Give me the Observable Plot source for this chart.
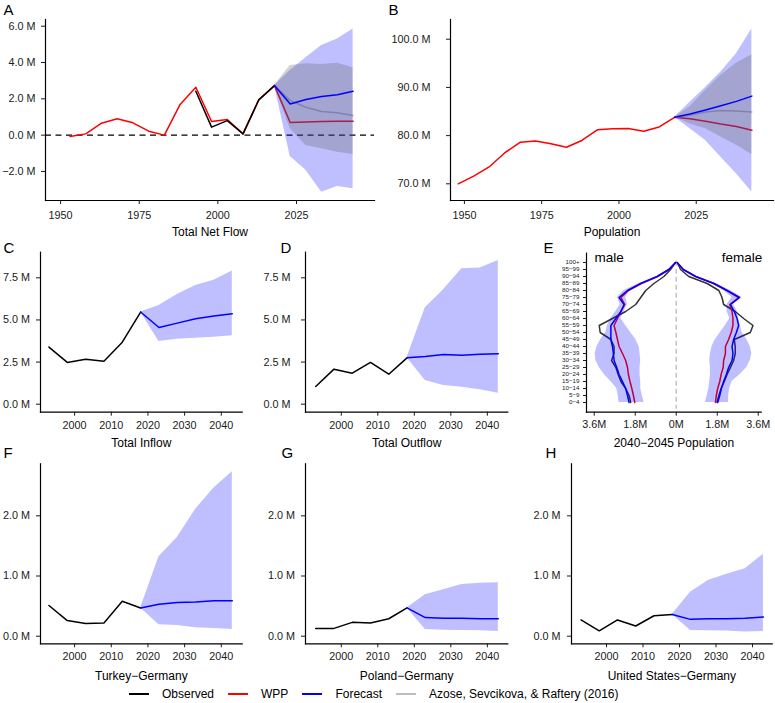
<!DOCTYPE html>
<html>
<head>
<meta charset="utf-8">
<script src="https://cdn.jsdelivr.net/npm/d3@7"></script>
<script src="https://cdn.jsdelivr.net/npm/@observablehq/plot@0.6"></script>
<style>
  body { margin: 0; background: #fff; }
  #wrap { position: relative; width: 775px; height: 703px; font-family: "Liberation Sans", Arial, Helvetica, sans-serif; }
  #wrap svg { position: absolute; left: 0; top: 0; }
  #legend { position: absolute; left: 129px; top: 686px; height: 16px; display: flex; align-items: center; font-size: 12px; color: #000; }
  #legend .item { display: flex; align-items: center; margin-right: 14px; }
  #legend .sw { display: inline-block; width: 20px; height: 2px; margin-right: 13px; }
</style>
</head>
<body>
<div id="wrap"></div>
<script>
// ---------------- data ----------------
const histYears = [1993, 1998, 2003, 2008, 2013, 2018];
const fcYears = [2018, 2023, 2028, 2033, 2038, 2043];

// A: Total net flow (millions)
const wppNetYears = [1953, 1958, 1963, 1968, 1973, 1978, 1983, 1988, 1993, 1998, 2003, 2008, 2013, 2018, 2023, 2028, 2033, 2038, 2043];
const wppNet = [-0.07, 0.07, 0.66, 0.90, 0.68, 0.22, 0.00, 1.69, 2.64, 0.75, 0.86, 0.07, 1.94, 2.73, 0.70, 0.72, 0.75, 0.76, 0.77];
const obsNet = [2.42, 0.44, 0.80, 0.07, 1.94, 2.73];
const fcNet = [2.73, 1.72, 1.96, 2.13, 2.22, 2.42];
const fcNetLo = [2.73, -1.17, -1.94, -3.14, -2.83, -2.95];
const fcNetHi = [2.73, 3.56, 4.26, 4.94, 5.30, 5.85];
const azNet = [2.73, 1.90, 1.54, 1.30, 1.23, 1.08];
const azNetLo = [2.73, 0.35, -0.57, -0.75, -0.94, -1.06];
const azNetHi = [2.73, 3.83, 3.93, 3.89, 3.96, 3.71];

// B: Population (millions)
const wppPopYears = [1948, 1953, 1958, 1963, 1968, 1973, 1978, 1983, 1988, 1993, 1998, 2003, 2008, 2013, 2018, 2023, 2028, 2033, 2038, 2043];
const wppPop = [70.0, 71.6, 73.5, 76.4, 78.6, 78.9, 78.3, 77.6, 79.0, 81.2, 81.4, 81.5, 80.9, 81.8, 83.8, 83.5, 83.0, 82.4, 81.9, 81.1];
const fcPop = [83.8, 84.5, 85.3, 86.2, 87.1, 88.2];
const fcPopLo = [83.8, 81.4, 79.0, 75.5, 72.1, 68.3];
const fcPopHi = [83.8, 86.9, 90.0, 93.2, 97.0, 102.1];
const azPop = [83.8, 84.2, 84.9, 85.2, 85.1, 84.9];
const azPopLo = [83.8, 82.4, 81.4, 79.7, 78.0, 76.1];
const azPopHi = [83.8, 86.0, 89.4, 92.5, 95.0, 96.8];

// C: Total inflow
const inflowObs = [3.39, 2.48, 2.67, 2.55, 3.68, 5.47];
const inflowFc = [5.47, 4.55, 4.81, 5.07, 5.23, 5.37];
const inflowLo = [5.47, 3.72, 3.86, 3.92, 3.98, 4.06];
const inflowHi = [5.47, 5.86, 6.51, 7.05, 7.35, 7.90];

// D: Total outflow
const outflowObs = [1.05, 2.08, 1.84, 2.48, 1.78, 2.75];
const outflowFc = [2.75, 2.83, 2.95, 2.91, 2.97, 2.99];
const outflowLo = [2.75, 1.41, 1.11, 1.01, 0.85, 0.65];
const outflowHi = [2.75, 5.72, 6.79, 8.04, 8.08, 8.53];

// F: Turkey-Germany
const turObs = [0.51, 0.26, 0.21, 0.22, 0.58, 0.47];
const turFc = [0.47, 0.53, 0.56, 0.57, 0.59, 0.59];
const turLo = [0.47, 0.19, 0.18, 0.14, 0.13, 0.11];
const turHi = [0.47, 1.32, 1.64, 2.11, 2.46, 2.73];

// G: Poland-Germany
const polObs = [0.13, 0.13, 0.23, 0.22, 0.29, 0.47];
const polFc = [0.47, 0.31, 0.30, 0.30, 0.29, 0.29];
const polLo = [0.47, 0.11, 0.10, 0.095, 0.09, 0.08];
const polHi = [0.47, 0.69, 0.77, 0.86, 0.88, 0.89];

// H: United States-Germany
const usObs = [0.27, 0.09, 0.27, 0.17, 0.34, 0.36];
const usFc = [0.36, 0.28, 0.29, 0.29, 0.30, 0.32];
const usLo = [0.36, 0.095, 0.09, 0.085, 0.07, 0.08];
const usHi = [0.36, 0.73, 0.93, 1.03, 1.12, 1.36];

// E: 2040-2045 population pyramid (millions)
const ages = ["0−4", "5−9", "10−14", "15−19", "20−24", "25−29", "30−34", "35−39", "40−44", "45−49", "50−54", "55−59", "60−64", "65−69", "70−74", "75−79", "80−84", "85−89", "90−94", "95−99", "100+"];
const maleFc = [2.07, 2.14, 2.22, 2.36, 2.51, 2.61, 2.73, 2.76, 2.80, 2.87, 2.87, 2.87, 2.65, 2.43, 2.29, 2.51, 2.14, 1.56, 0.83, 0.32, 0.03];
const maleWpp = [1.82, 1.88, 1.95, 2.03, 2.10, 2.14, 2.22, 2.36, 2.51, 2.58, 2.65, 2.73, 2.58, 2.43, 2.26, 2.43, 2.10, 1.53, 0.83, 0.32, 0.03];
const maleObs = [2.00, 2.07, 2.22, 2.43, 2.55, 2.65, 2.84, 2.73, 2.73, 2.87, 3.34, 3.38, 2.80, 2.22, 1.78, 1.56, 1.34, 0.98, 0.54, 0.25, 0.03];
const maleBandOuter = [2.51, 2.55, 2.61, 2.87, 3.16, 3.38, 3.53, 3.56, 3.48, 3.31, 3.09, 3.02, 2.87, 2.65, 2.46, 2.58, 2.29, 1.63, 0.87, 0.35, 0.03];
const maleBandInner = [1.41, 1.49, 1.56, 1.56, 1.59, 1.59, 1.56, 1.59, 1.63, 1.78, 2.00, 2.22, 2.43, 2.29, 2.14, 2.22, 2.03, 1.45, 0.76, 0.29, 0.03];
const femFc = [1.82, 1.91, 1.98, 2.08, 2.20, 2.30, 2.45, 2.49, 2.45, 2.52, 2.64, 2.74, 2.67, 2.55, 2.38, 2.78, 2.23, 1.65, 0.85, 0.31, 0.04];
const femWpp = [1.72, 1.76, 1.82, 1.91, 1.97, 2.06, 2.08, 2.16, 2.16, 2.30, 2.41, 2.49, 2.49, 2.45, 2.35, 2.74, 2.23, 1.65, 0.85, 0.31, 0.04];
const femObs = [1.79, 1.87, 1.97, 2.11, 2.23, 2.38, 2.52, 2.59, 2.59, 2.55, 3.25, 3.37, 2.96, 2.59, 2.08, 2.01, 1.87, 1.36, 0.55, 0.19, 0.04];
const femBandInner = [1.28, 1.36, 1.43, 1.47, 1.50, 1.50, 1.47, 1.50, 1.57, 1.72, 1.94, 2.16, 2.35, 2.23, 2.23, 2.45, 2.08, 1.54, 0.77, 0.28, 0.04];
const femBandOuter = [2.30, 2.30, 2.35, 2.45, 2.81, 3.10, 3.25, 3.32, 3.25, 3.10, 2.89, 2.81, 2.74, 2.67, 2.52, 2.89, 2.38, 1.76, 0.92, 0.34, 0.04];

// ticks and labels
const yearTicksLong = [1950, 1975, 2000, 2025];
const yearTicksShort = [2000, 2010, 2020, 2030, 2040];
const netTicks = [-2, 0, 2, 4, 6];
const popTicks = [70, 80, 90, 100];
const flowTicks = [0, 2.5, 5, 7.5];
const corridorTicks = [0, 1, 2];
const pyrTicks = [-3.6, -1.8, 0, 1.8, 3.6];
const pyrTickLabels = ["3.6M", "1.8M", "0M", "1.8M", "3.6M"];

const legendLabels = ["Observed", "WPP", "Forecast", "Azose, Sevcikova, & Raftery (2016)"];
const legendColors = ["#000000", "#ff0000", "#0000ff", "#bdbdbd"];

// ---------------- helpers ----------------
const W = 775, H = 703;
const FONT = "'Liberation Sans', Arial, Helvetica, sans-serif";
const RED = "#ff0000", BLUE = "#0000ff", GRAY = "#bdbdbd";
const LW = 1.5;
const fmtM = d => (d < 0 ? "−" : "") + Math.abs(d).toFixed(1) + " M";

function rows(xs, cols) {
  return xs.map((x, i) => {
    const r = {x};
    for (const k in cols) r[k] = cols[k][i];
    return r;
  });
}

function panel(cfg) {
  const [L, R, T, B] = cfg.box;
  const marks = [
    ...cfg.marks,
    Plot.frame({anchor: "left", stroke: "black", strokeWidth: 1.2}),
    Plot.frame({anchor: "bottom", stroke: "black", strokeWidth: 1.2}),
    Plot.axisX({ticks: cfg.xTicks, tickFormat: cfg.xFmt, tickSize: 4, tickPadding: cfg.xPad, fontSize: 10.8, label: null, color: "#1a1a1a"}),
    Plot.axisY({ticks: cfg.yTicks, tickFormat: cfg.yFmt, tickSize: cfg.yTickSize || 4, tickPadding: cfg.yPad, fontSize: cfg.yFont || 10.8, label: null, color: "#1a1a1a"}),
    Plot.text([cfg.letter], {text: d => d, frameAnchor: "top-left", textAnchor: "start", lineAnchor: "middle",
      dx: cfg.letterPos[0] - L, dy: cfg.letterPos[1] - T, fontSize: 15, fill: "black"}),
    Plot.text([cfg.title], {text: d => d, frameAnchor: "bottom", lineAnchor: "middle",
      dy: cfg.titleY - B, fontSize: 12, fill: "black"})
  ];
  return Plot.plot({
    width: W, height: H,
    marginLeft: L, marginRight: W - R, marginTop: T, marginBottom: H - B,
    style: {background: "transparent", fontFamily: FONT, overflow: "visible"},
    x: cfg.x, y: cfg.y,
    marks
  });
}

function forecastMarks(obs, fc, lo, hi) {
  const o = rows(histYears, {v: obs});
  const f = rows(fcYears, {v: fc, lo, hi});
  return [
    Plot.line(o, {x: "x", y: "v", stroke: "black", strokeWidth: LW}),
    Plot.areaY(f, {x: "x", y1: "lo", y2: "hi", fill: BLUE, fillOpacity: 0.25}),
    Plot.line(f, {x: "x", y: "v", stroke: BLUE, strokeWidth: LW})
  ];
}

const wrap = document.getElementById("wrap");

// ---------------- A ----------------
{
  const wpp = rows(wppNetYears, {v: wppNet});
  const obs = rows(histYears, {v: obsNet});
  const f = rows(fcYears, {v: fcNet, lo: fcNetLo, hi: fcNetHi, az: azNet, azLo: azNetLo, azHi: azNetHi});
  wrap.append(panel({
    box: [45, 374, 19, 200],
    x: {domain: [1945.2, 2049.8]}, y: {domain: [-3.6, 6.37]},
    xTicks: yearTicksLong, xFmt: d => String(d), xPad: 6.7,
    yTicks: netTicks, yFmt: fmtM, yPad: 6,
    letter: "A", letterPos: [3, 10], title: "Total Net Flow", titleY: 231.6,
    marks: [
      Plot.ruleY([0], {stroke: "black", strokeWidth: 1.2, strokeDasharray: "6,4.5"}),
      Plot.line(wpp, {x: "x", y: "v", stroke: RED, strokeWidth: LW}),
      Plot.line(f, {x: "x", y: "az", stroke: GRAY, strokeWidth: LW}),
      Plot.line(obs, {x: "x", y: "v", stroke: "black", strokeWidth: LW}),
      Plot.areaY(f, {x: "x", y1: "lo", y2: "hi", fill: BLUE, fillOpacity: 0.25}),
      Plot.areaY(f, {x: "x", y1: "azLo", y2: "azHi", fill: "#666", fillOpacity: 0.3}),
      Plot.line(f, {x: "x", y: "v", stroke: BLUE, strokeWidth: LW})
    ]
  }));
}

// ---------------- B ----------------
{
  const wpp = rows(wppPopYears, {v: wppPop});
  const f = rows(fcYears, {v: fcPop, lo: fcPopLo, hi: fcPopHi, az: azPop, azLo: azPopLo, azHi: azPopHi});
  wrap.append(panel({
    box: [450, 773, 19, 200],
    x: {domain: [1945.5, 2050]}, y: {domain: [66.54, 104.09]},
    xTicks: yearTicksLong, xFmt: d => String(d), xPad: 6.7,
    yTicks: popTicks, yFmt: fmtM, yPad: 16,
    letter: "B", letterPos: [388, 9.5], title: "Population", titleY: 231.6,
    marks: [
      Plot.line(wpp, {x: "x", y: "v", stroke: RED, strokeWidth: LW}),
      Plot.line(f, {x: "x", y: "az", stroke: GRAY, strokeWidth: LW}),
      Plot.areaY(f, {x: "x", y1: "lo", y2: "hi", fill: BLUE, fillOpacity: 0.25}),
      Plot.areaY(f, {x: "x", y1: "azLo", y2: "azHi", fill: "#666", fillOpacity: 0.3}),
      Plot.line(f, {x: "x", y: "v", stroke: BLUE, strokeWidth: LW})
    ]
  }));
}

// ---------------- C, D ----------------
wrap.append(panel({
  box: [40, 241.7, 251.7, 411.7],
  x: {domain: [1990.7, 2045.7]}, y: {domain: [-0.475, 9.02]},
  xTicks: yearTicksShort, xFmt: d => String(d), xPad: 4.8,
  yTicks: flowTicks, yFmt: fmtM, yPad: 6.5,
  letter: "C", letterPos: [3, 247.5], title: "Total Inflow", titleY: 442.2,
  marks: forecastMarks(inflowObs, inflowFc, inflowLo, inflowHi)
}));
wrap.append(panel({
  box: [305, 507.3, 251.7, 411.7],
  x: {domain: [1990.2, 2045.6]}, y: {domain: [-0.475, 9.02]},
  xTicks: yearTicksShort, xFmt: d => String(d), xPad: 4.8,
  yTicks: flowTicks, yFmt: fmtM, yPad: 11,
  letter: "D", letterPos: [280, 247.5], title: "Total Outflow", titleY: 442.2,
  marks: forecastMarks(outflowObs, outflowFc, outflowLo, outflowHi)
}));

// ---------------- E ----------------
{
  const e = rows(ages, {mf: maleFc, mw: maleWpp, mo: maleObs, mbo: maleBandOuter, mbi: maleBandInner,
                        ff: femFc, fw: femWpp, fo: femObs, fbi: femBandInner, fbo: femBandOuter});
  const T = 252.7;
  wrap.append(panel({
    box: [586, 760.7, 252.7, 411.7],
    x: {domain: [-3.94, 3.73]},
    y: {type: "point", domain: ages.slice().reverse(), padding: 0, insetTop: 4, insetBottom: 5},
    xTicks: pyrTicks, xFmt: d => pyrTickLabels[pyrTicks.indexOf(d)], xPad: 3.7,
    yTicks: ages, yFmt: d => d, yPad: 4, yTickSize: 3, yFont: 6.2,
    letter: "E", letterPos: [543, 247.5], title: "2040−2045 Population", titleY: 442.5,
    marks: [
      Plot.ruleX([0], {stroke: "#c4c4c4", strokeWidth: 1.5, strokeDasharray: "5,3", insetTop: 8, insetBottom: 3}),
      Plot.line(e, {x: d => -d.mo, y: "x", stroke: "#333333", strokeWidth: LW}),
      Plot.line(e, {x: d => d.fo, y: "x", stroke: "#333333", strokeWidth: LW}),
      Plot.line(e, {x: d => -d.mw, y: "x", stroke: RED, strokeWidth: LW}),
      Plot.line(e, {x: d => d.fw, y: "x", stroke: RED, strokeWidth: LW}),
      Plot.areaX(e, {y: "x", x1: d => -d.mbo, x2: d => -d.mbi, fill: BLUE, fillOpacity: 0.25}),
      Plot.areaX(e, {y: "x", x1: d => d.fbi, x2: d => d.fbo, fill: BLUE, fillOpacity: 0.25}),
      Plot.line(e, {x: d => -d.mf, y: "x", stroke: BLUE, strokeWidth: LW}),
      Plot.line(e, {x: d => d.ff, y: "x", stroke: BLUE, strokeWidth: LW}),
      Plot.text(["male"], {text: d => d, frameAnchor: "top-left", textAnchor: "start", lineAnchor: "middle", dx: 8, dy: 257 - T, fontSize: 13.5, fill: "black"}),
      Plot.text(["female"], {text: d => d, frameAnchor: "top-right", textAnchor: "end", lineAnchor: "middle", dx: 1, dy: 257 - T, fontSize: 13.5, fill: "black"})
    ]
  }));
}

// ---------------- F, G, H ----------------
wrap.append(panel({
  box: [40, 241.7, 463.3, 643.3],
  x: {domain: [1990.7, 2045.7]}, y: {domain: [-0.126, 2.864]},
  xTicks: yearTicksShort, xFmt: d => String(d), xPad: 4.6,
  yTicks: corridorTicks, yFmt: fmtM, yPad: 6.5,
  letter: "F", letterPos: [3, 452.5], title: "Turkey−Germany", titleY: 676,
  marks: forecastMarks(turObs, turFc, turLo, turHi)
}));
wrap.append(panel({
  box: [305, 507.3, 463.3, 643.3],
  x: {domain: [1990.2, 2045.6]}, y: {domain: [-0.126, 2.864]},
  xTicks: yearTicksShort, xFmt: d => String(d), xPad: 4.6,
  yTicks: corridorTicks, yFmt: fmtM, yPad: 6.5,
  letter: "G", letterPos: [281, 452.5], title: "Poland−Germany", titleY: 676,
  marks: forecastMarks(polObs, polFc, polLo, polHi)
}));
wrap.append(panel({
  box: [571, 771.7, 463.3, 643.3],
  x: {domain: [1990.4, 2045.4]}, y: {domain: [-0.126, 2.864]},
  xTicks: yearTicksShort, xFmt: d => String(d), xPad: 4.6,
  yTicks: corridorTicks, yFmt: fmtM, yPad: 7,
  letter: "H", letterPos: [545, 452.5], title: "United States−Germany", titleY: 676,
  marks: forecastMarks(usObs, usFc, usLo, usHi)
}));

// ---------------- legend ----------------
const legend = document.createElement("div");
legend.id = "legend";
legendLabels.forEach((lab, i) => {
  const item = document.createElement("div");
  item.className = "item";
  const sw = document.createElement("span");
  sw.className = "sw";
  sw.style.background = legendColors[i];
  const t = document.createElement("span");
  t.textContent = lab;
  item.append(sw, t);
  legend.append(item);
});
wrap.append(legend);
</script>
</body>
</html>
